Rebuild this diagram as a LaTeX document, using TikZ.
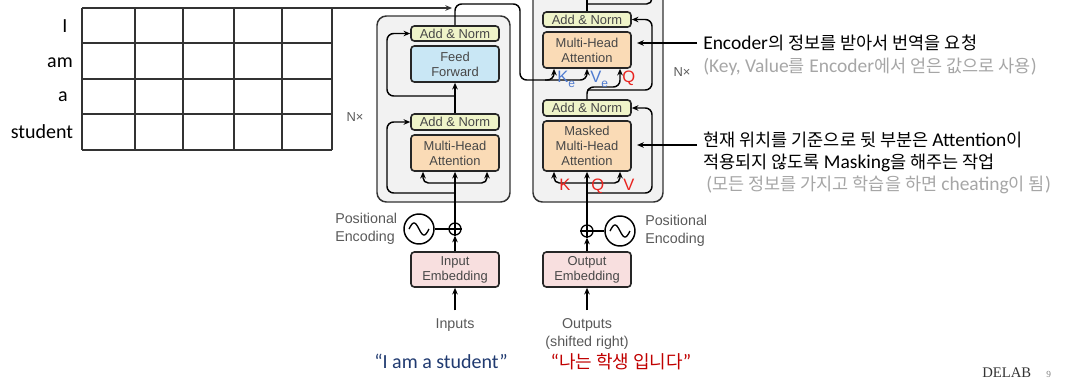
\documentclass[tikz,border=0pt]{standalone}
\usepackage{fontspec}
\setmainfont{Carlito}
\newfontfamily\hv{Liberation Sans}
\newfontfamily\kr[Scale=0.9]{Noto Sans CJK KR}
\newfontfamily\serifft{Liberation Serif}
\usetikzlibrary{arrows.meta,calc}

\definecolor{addnorm}{HTML}{EFF4C9}
\definecolor{ffblue}{HTML}{C9E7F5}
\definecolor{mhaorange}{HTML}{FADBB6}
\definecolor{embpink}{HTML}{F8DFDF}
\definecolor{stackgray}{HTML}{F2F2F2}
\definecolor{labelgray}{HTML}{595959}
\definecolor{boxtext}{HTML}{474747}
\definecolor{notegray}{HTML}{A6A6A6}
\definecolor{engblue}{HTML}{203A70}
\definecolor{korred}{HTML}{C00000}
\definecolor{qkvred}{HTML}{E8231F}
\definecolor{encblue}{HTML}{4F7BD0}

\begin{document}
\begin{tikzpicture}[x=0.75pt,y=-0.75pt,
  >={Stealth[length=5pt,width=4.2pt]},
  flow/.style={line width=1.1pt,draw=black},
  thin/.style={line width=0.8pt,draw=black!80},
  layer/.style={draw=black!85,line width=1.2pt,rounded corners=2.5pt,
    minimum width=66pt,inner sep=0pt,align=center,text=boxtext,
    font=\hv\fontsize{9.7}{11.3}\selectfont},
  stack/.style={draw=black!80,fill=stackgray,line width=1.1pt,rounded corners=7pt},
  outlabel/.style={text=labelgray,font=\hv\fontsize{10.7}{13.5}\selectfont,inner sep=0pt},
  word/.style={font=\fontsize{15}{18}\selectfont,inner sep=0pt,anchor=base},
  note/.style={font=\fontsize{14.6}{17}\selectfont,inner sep=0pt,anchor=base west},
  kvtag/.style={font=\hv\fontsize{12.4}{14}\selectfont,inner sep=0pt,anchor=base west},
  addnode/.style={circle,draw=black,line width=1pt,minimum size=9pt,inner sep=0pt,fill=white},
  pecircle/.style={circle,draw=black,line width=1.1pt,minimum size=22.5pt,inner sep=0pt,fill=white}]

\useasboundingbox (0,0) rectangle (1083,379);

% word-vector table
\foreach \cx in {82,135,183,234,282,332} \draw[thin] (\cx,8) -- (\cx,150);
\foreach \cy in {8,43,79,114,150} \draw[thin] (82,\cy) -- (332,\cy);
\coordinate (tabletop) at (332,8);
\node[word] (w1) at (65,32) {I};
\node[word] (w2) at (60,67) {am};
\node[word] (w3) at (63,101) {a};
\node[word] (w4) at (42,138) {student};

% encoder and decoder stacks
\node[stack,minimum width=99.75pt,minimum height=139.5pt] (encstack) at (443.5,109) {};
\node[stack,minimum width=97.5pt,minimum height=166.5pt] (decstack) at (598,91) {};

% encoder layers
\node[layer,fill=addnorm,minimum height=11.25pt] (enc-an1) at (455,33.5) {Add \& Norm};
\node[layer,fill=ffblue,minimum height=27pt] (enc-ff) at (455,64) {Feed\\Forward};
\node[layer,fill=addnorm,minimum height=12pt] (enc-an2) at (455,122) {Add \& Norm};
\node[layer,fill=mhaorange,minimum height=27pt] (enc-mha) at (455,153) {Multi-Head\\Attention};
\node[layer,fill=embpink,minimum height=26.25pt] (in-emb) at (455,269.5) {Input\\Embedding};

% decoder layers
\node[layer,fill=addnorm,minimum height=11.25pt] (dec-an1) at (587,19.5) {Add \& Norm};
\node[layer,fill=mhaorange,minimum height=27pt] (dec-mha) at (587,50) {Multi-Head\\Attention};
\node[layer,fill=addnorm,minimum height=12pt] (dec-an2) at (587,108) {Add \& Norm};
\node[layer,fill=mhaorange,minimum height=37.5pt] (dec-mmha) at (587,146) {Masked\\Multi-Head\\Attention};
\node[layer,fill=embpink,minimum height=26.25pt] (out-emb) at (587,269.5) {Output\\Embedding};

% positional encoding
\node[addnode] (enc-add) at (455,229) {};
\draw[line width=0.8pt] (enc-add.north) -- (enc-add.south) (enc-add.west) -- (enc-add.east);
\node[pecircle] (enc-pe) at (419,229) {};
\draw[line width=1pt,domain=-1:1,samples=40,shift={(419,229)}] plot ({10*\x},{6*sin(180*\x)});
\node[addnode] (dec-add) at (587,231) {};
\draw[line width=0.8pt] (dec-add.north) -- (dec-add.south) (dec-add.west) -- (dec-add.east);
\node[pecircle] (dec-pe) at (620,231) {};
\draw[line width=1pt,domain=-1:1,samples=40,shift={(620,231)}] plot ({10*\x},{6*sin(180*\x)});

\node[outlabel,anchor=west,align=left] (enc-pe-l) at (335,229) {Positional\\Encoding};
\node[outlabel,anchor=west,align=left] (dec-pe-l) at (645,231) {Positional\\Encoding};

\node[outlabel] (inputs) at (455,325) {Inputs};
\node[outlabel,align=center,anchor=north] (outputs) at (587,318) {Outputs\\(shifted right)};

\node[outlabel,font=\hv\fontsize{9.7}{11}\selectfont] (enc-n) at (355,117) {N×};
\node[outlabel,font=\hv\fontsize{9.7}{11}\selectfont] (dec-n) at (682,72) {N×};

% encoder flow
\draw[flow,->,shorten <=6pt] (inputs.north) -- (in-emb.south);
\draw[flow,->] (in-emb.north) -- (enc-add.south);
\draw[flow] (enc-pe.east) -- (enc-add.west);
\draw[flow,->] (enc-add.north) -- (enc-mha.south);
\draw[flow,->,rounded corners=4pt] (455,183) -| ($(enc-mha.south)+(-32,0)$);
\draw[flow,->,rounded corners=4pt] (455,183) -| ($(enc-mha.south)+(32,0)$);
\draw[flow,->,rounded corners=5pt] (455,193) -| (387,122) -- (enc-an2.west);
\draw[flow,->] (enc-an2.north) -- (enc-ff.south);
\draw[flow,->,rounded corners=5pt] (455,96) -| (387,33.5) -- (enc-an1.west);

% encoder output feeding keys and values
\draw[flow,->,rounded corners=5pt] (enc-an1.north) |- (520,4) |- (554,80) -- ($(dec-mha.south)+(-33,0)$);
\draw[flow,->,rounded corners=5pt] (545,80) -| (dec-mha.south);
\draw[thin,->] (tabletop) -- (452,8);

% decoder flow
\draw[flow,->,shorten <=6pt] (outputs.north) -- (out-emb.south);
\draw[flow,->] (out-emb.north) -- (dec-add.south);
\draw[flow] (dec-pe.west) -- (dec-add.east);
\draw[flow,->] (dec-add.north) -- (dec-mmha.south);
\draw[flow,->,rounded corners=4pt] (587,183) -| ($(dec-mmha.south)+(-33,0)$);
\draw[flow,->,rounded corners=4pt] (587,183) -| ($(dec-mmha.south)+(33,0)$);
\draw[flow,->,rounded corners=5pt] (587,193) -| (652,108) -- (dec-an2.east);
\draw[flow,->,rounded corners=5pt] (dec-an2.north) -- (587,87) -| ($(dec-mha.south)+(33,0)$);
\draw[flow,->,rounded corners=5pt] (587,90) -| (652,19.5) -- (dec-an1.east);
\draw[flow] (dec-an1.north) -- (587,-6);
\draw[flow,rounded corners=4pt] (587,4) -- (652,4) -- (652,-6);

% attention inputs
\node[kvtag,text=encblue] (ke) at (557,82) {K\raisebox{-4pt}{\fontsize{9}{9}\selectfont e}};
\node[kvtag,text=encblue] (ve) at (590,82) {V\raisebox{-4pt}{\fontsize{9}{9}\selectfont e}};
\node[kvtag,text=qkvred] (q1) at (622,82) {Q};
\node[kvtag,text=qkvred] (k2) at (559,190) {K};
\node[kvtag,text=qkvred] (q2) at (591,190) {Q};
\node[kvtag,text=qkvred] (v2) at (623,190) {V};

% notes
\coordinate (note1) at (697,43);
\coordinate (note2) at (697,145);
\draw[thin,draw=black,->,shorten >=4pt] (note1) -- (note1 -| dec-mha.east);
\draw[thin,draw=black,->,shorten >=4pt] (note2) -- (note2 -| dec-mmha.east);
\node[note] (n1) at (703,49) {Encoder{\kr 의 정보를 받아서 번역을 요청}};
\node[note,text=notegray] (n2) at (703,72) {(Key, Value{\kr 를} Encoder{\kr 에서 얻은 값으로 사용})};
\node[note] (n3) at (703,146) {{\kr 현재 위치를 기준으로 뒷 부분은 }Attention{\kr 이}};
\node[note] (n4) at (703,168) {{\kr 적용되지 않도록 }Masking{\kr 을 해주는 작업}};
\node[note,text=notegray] (n5) at (706,190) {({\kr 모든 정보를 가지고 학습을 하면 }cheating{\kr 이 됨})};

% example sentences
\node[word,text=engblue] (src) at (441,368) {“I am a student”};
\node[word,text=korred] (tgt) at (621,368) {“{\kr 나는 학생 입니다}”};

% footer
\node[inner sep=0pt,anchor=base west,font=\serifft\fontsize{11}{11}\selectfont,text=black!80] (lab) at (982,377) {DELAB};
\node[inner sep=0pt,anchor=base west,font=\serifft\fontsize{7}{7}\selectfont,text=black!50] (pg) at (1046,377) {9};
\end{tikzpicture}
\end{document}
